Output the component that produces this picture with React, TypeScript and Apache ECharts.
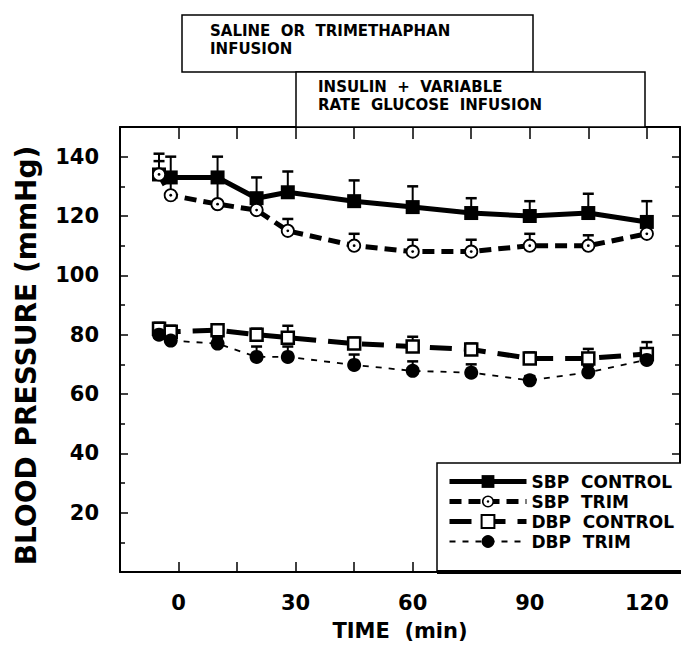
import React, { useEffect, useRef } from 'react';
import * as echarts from 'echarts';

const times = [-5, -2, 10, 20, 28, 45, 60, 75, 90, 105, 120];
const sbpControl = [134, 133, 133, 126, 128, 125, 123, 121, 120, 121, 118];
const sbpControlTop = [141, 140, 140, 133, 135, 132, 130, 126, 125, 127.5, 125];
const sbpTrim = [134, 127, 124, 122, 115, 110, 108, 108, 110, 110, 114];
const sbpTrimTop = [138.5, 133, 134, 127, 119, 114, 112, 112, 114, 113.5, 117];
const dbpControl = [82, 81, 81.5, 80, 79, 77, 76, 75, 72, 72, 73.5];
const dbpControlTop = [84, 83, 83.5, 82, 83, 79, 79.3, 77, 74, 75.2, 77.5];
const dbpTrim = [80, 78, 77, 72.5, 72.5, 69.8, 67.8, 67.2, 64.6, 67.3, 71.5];
const dbpTrimTop = [82, 80, 79, 76, 76, 73.3, 71, 70, 66, 69.5, 74];
const seriesNames = ['SBP  CONTROL', 'SBP  TRIM', 'DBP  CONTROL', 'DBP  TRIM'];
const xTickLabels = [0, 30, 60, 90, 120];
const yTickLabels = [20, 40, 60, 80, 100, 120, 140];
const box1Lines = ['SALINE  OR  TRIMETHAPHAN', 'INFUSION'];
const box2Lines = ['INSULIN  +  VARIABLE', 'RATE  GLUCOSE  INFUSION'];

const FONT = '"DejaVu Sans", sans-serif';

const ringDot =
  'image://data:image/svg+xml;utf8,' +
  encodeURIComponent(
    '<svg xmlns="http://www.w3.org/2000/svg" width="28" height="28" viewBox="0 0 28 28"><circle cx="14" cy="14" r="11.5" fill="white" stroke="black" stroke-width="3.5"/><circle cx="14" cy="14" r="2.6" fill="black"/></svg>'
  );

const pairs = (vals: number[]) => times.map((t, i) => [t, vals[i]]);
const errs = (vals: number[], tops: number[]) => times.map((t, i) => [t, vals[i], tops[i]]);

export default function App() {
  const ref = useRef<HTMLDivElement>(null);
  useEffect(() => {
    if (!ref.current) return;
    const chart = echarts.init(ref.current, undefined, { renderer: 'svg' });
    const axisLine = { show: true, onZero: false, lineStyle: { color: '#000', width: 2 } };
    const errorSeries = {
      type: 'custom',
      z: 1,
      silent: true,
      encode: { x: 0, y: 1 },
      data: [
        ...errs(sbpControl, sbpControlTop),
        ...errs(sbpTrim, sbpTrimTop),
        ...errs(dbpControl, dbpControlTop),
        ...errs(dbpTrim, dbpTrimTop),
      ],
      renderItem: (params: any, api: any) => {
        const x = api.value(0);
        const p0 = api.coord([x, api.value(1)]);
        const p1 = api.coord([x, api.value(2)]);
        return {
          type: 'group',
          children: [
            { type: 'line', shape: { x1: p0[0], y1: p0[1], x2: p1[0], y2: p1[1] }, style: { stroke: '#000', lineWidth: 2 } },
            { type: 'line', shape: { x1: p1[0] - 5.5, y1: p1[1], x2: p1[0] + 5.5, y2: p1[1] }, style: { stroke: '#000', lineWidth: 2.5 } },
          ],
        };
      },
    };
    const textEl = (text: string, x: number, y: number) => ({
      type: 'text',
      z: 50,
      style: {
        text,
        x,
        y,
        fill: '#000',
        fontFamily: FONT,
        fontWeight: 'bold',
        fontSize: 15,
        verticalAlign: 'middle',
      },
    });
    const legendLine = (w: number) => ({ width: w });
    chart.setOption({
      animation: false,
      backgroundColor: '#fff',
      grid: { left: 120, right: 1, top: 127, bottom: 74, containLabel: false },
      xAxis: [
        {
          type: 'value',
          min: -15,
          max: 128.5,
          interval: 15,
          position: 'bottom',
          axisLine,
          axisTick: { show: true, inside: true, length: 10, lineStyle: { color: '#000', width: 1.5 } },
          splitLine: { show: false },
          axisLabel: {
            margin: 20,
            color: '#000',
            fontFamily: FONT,
            fontWeight: 'bold',
            fontSize: 21,
            showMaxLabel: false,
            formatter: (v: number) => (xTickLabels.includes(v) ? String(v) : ''),
          },
          name: 'TIME  (min)',
          nameLocation: 'middle',
          nameGap: 48,
          nameTextStyle: { color: '#000', fontFamily: FONT, fontWeight: 'bold', fontSize: 21 },
        },
        {
          type: 'value',
          min: -15,
          max: 128.5,
          interval: 15,
          position: 'top',
          axisLine,
          axisTick: { show: true, inside: true, length: 12, lineStyle: { color: '#000', width: 1.5 } },
          splitLine: { show: false },
          axisLabel: { show: false },
        },
      ],
      yAxis: [
        {
          type: 'value',
          min: 0,
          max: 150,
          interval: 20,
          position: 'left',
          axisLine,
          axisTick: { show: true, inside: true, length: 8, lineStyle: { color: '#000', width: 1.5 } },
          minorTick: { show: true, splitNumber: 2, length: 5, lineStyle: { color: '#000', width: 1.5 } },
          splitLine: { show: false },
          axisLabel: {
            margin: 21,
            color: '#000',
            fontFamily: FONT,
            fontWeight: 'bold',
            fontSize: 21,
            formatter: (v: number) => (yTickLabels.includes(v) ? String(v) : ''),
          },
          name: 'BLOOD PRESSURE (mmHg)',
          nameLocation: 'middle',
          nameGap: 80,
          nameTextStyle: { color: '#000', fontFamily: FONT, fontWeight: 'bold', fontSize: 28, padding: [0, 12, 0, 0] },
        },
        {
          type: 'value',
          min: 0,
          max: 150,
          interval: 20,
          position: 'right',
          axisLine,
          axisTick: { show: true, inside: true, length: 8, lineStyle: { color: '#000', width: 1.5 } },
          minorTick: { show: true, splitNumber: 2, length: 5, lineStyle: { color: '#000', width: 1.5 } },
          splitLine: { show: false },
          axisLabel: { show: false },
        },
      ],
      legend: {
        z: 100,
        orient: 'vertical',
        left: 447,
        top: 473,
        padding: 0,
        itemWidth: 77,
        itemHeight: 16,
        itemGap: 3,
        data: [
          { name: seriesNames[0], lineStyle: legendLine(5) },
          { name: seriesNames[1], lineStyle: legendLine(5) },
          { name: seriesNames[2], lineStyle: legendLine(5) },
          { name: seriesNames[3], lineStyle: legendLine(1.8) },
        ],
        textStyle: { color: '#000', fontFamily: FONT, fontWeight: 'bold', fontSize: 17 },
      },
      graphic: [
        { type: 'rect', z: 50, shape: { x: 182, y: 15, width: 351, height: 57 }, style: { fill: '#fff', stroke: '#000', lineWidth: 1.5 } },
        { type: 'rect', z: 50, shape: { x: 296, y: 72, width: 349, height: 55 }, style: { fill: '#fff', stroke: '#000', lineWidth: 1.5 } },
        textEl(box1Lines[0], 210, 31),
        textEl(box1Lines[1], 210, 49),
        textEl(box2Lines[0], 318, 87),
        textEl(box2Lines[1], 318, 105),
        { type: 'rect', z: 50, shape: { x: 437, y: 463, width: 260, height: 108 }, style: { fill: '#fff', stroke: '#000', lineWidth: 1.5 } },
        { type: 'line', z: 51, shape: { x1: 437, y1: 572, x2: 681, y2: 572 }, style: { stroke: '#000', lineWidth: 4 } },
      ],
      series: [
        errorSeries,
        {
          name: seriesNames[0],
          type: 'line',
          z: 3,
          data: pairs(sbpControl),
          symbol: 'rect',
          symbolSize: 14,
          lineStyle: { color: '#000', width: 5 },
          itemStyle: { color: '#000', borderColor: '#000', borderWidth: 0 },
        },
        {
          name: seriesNames[1],
          type: 'line',
          z: 4,
          data: pairs(sbpTrim),
          symbol: ringDot,
          symbolSize: 15,
          lineStyle: { color: '#000', width: 5, type: [12, 7] },
          itemStyle: { color: '#000' },
        },
        {
          name: seriesNames[2],
          type: 'line',
          z: 3,
          data: pairs(dbpControl),
          symbol: 'rect',
          symbolSize: 12,
          lineStyle: { color: '#000', width: 5, type: [22, 12] },
          itemStyle: { color: '#fff', borderColor: '#000', borderWidth: 2.5 },
        },
        {
          name: seriesNames[3],
          type: 'line',
          z: 4,
          data: pairs(dbpTrim),
          symbol: 'circle',
          symbolSize: 14,
          lineStyle: { color: '#000', width: 1.8, type: [6, 7] },
          itemStyle: { color: '#000', borderColor: '#000', borderWidth: 0 },
        },
      ],
    });
    return () => chart.dispose();
  }, []);
  return <div ref={ref} style={{ position: 'fixed', left: 0, top: 0, width: 681, height: 646, background: '#fff' }} />;
}
